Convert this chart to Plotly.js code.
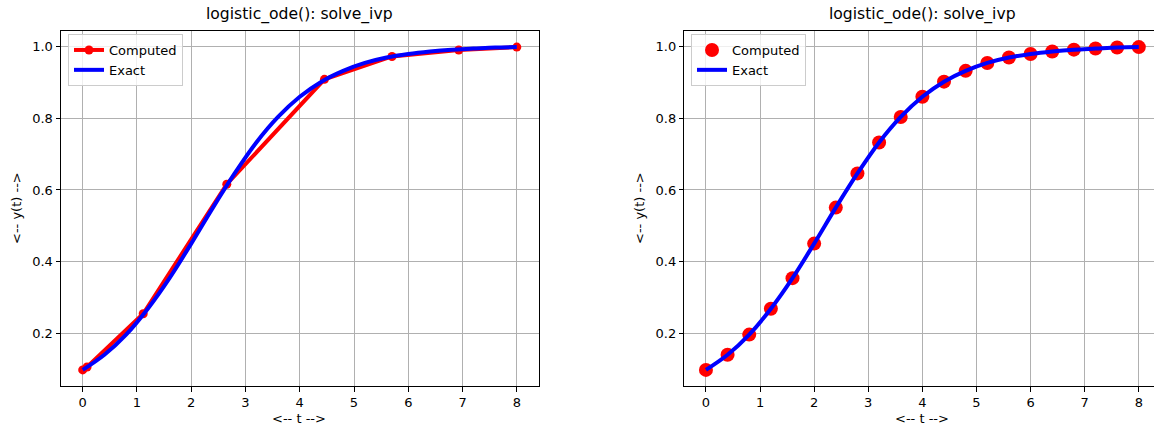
<!DOCTYPE html>
<html>
<head>
<meta charset="utf-8">
<script src="https://cdn.plot.ly/plotly-3.0.1.min.js"></script>
<style>html,body{margin:0;padding:0;background:#fff;}#chart{width:1154px;height:427px;}</style>
</head>
<body>
<div id="chart"></div>
<script>
// Left panel: solve_ivp adaptive steps
const leftT = [0, 0.08, 1.115, 2.655, 4.455, 5.70, 6.93, 8.0];
const leftY = [0.100, 0.108, 0.256, 0.616, 0.9075, 0.971, 0.989, 0.997];

// Right panel: solve_ivp with t_eval
const rightT = [0, 0.4, 0.8, 1.2, 1.6, 2.0, 2.4, 2.8, 3.2, 3.6, 4.0, 4.4, 4.8, 5.2, 5.6, 6.0, 6.4, 6.8, 7.2, 7.6, 8.0];
const rightY = [0.100, 0.142, 0.198, 0.270, 0.355, 0.451, 0.551, 0.646, 0.732, 0.803, 0.859, 0.901, 0.931, 0.953, 0.968, 0.978, 0.985, 0.990, 0.993, 0.996, 0.997];

// Exact curve
const exactT = [0, 0.4, 0.8, 1.2, 1.6, 2.0, 2.4, 2.8, 3.2, 3.6, 4.0, 4.4, 4.8, 5.2, 5.6, 6.0, 6.4, 6.8, 7.2, 7.6, 8.0];
const exactY = [0.100, 0.142, 0.198, 0.270, 0.355, 0.451, 0.551, 0.646, 0.732, 0.803, 0.859, 0.901, 0.931, 0.953, 0.968, 0.978, 0.985, 0.990, 0.993, 0.996, 0.997];

const xTicks = [0, 1, 2, 3, 4, 5, 6, 7, 8];
const yTicks = [0.2, 0.4, 0.6, 0.8, 1.0];
const yTickText = ['0.2', '0.4', '0.6', '0.8', '1.0'];

const titleText = 'logistic_ode(): solve_ivp';
const xLabel = '<-- t -->';
const yLabel = '<-- y(t) -->';

const FONT = 'DejaVu Sans, sans-serif';

const traces = [
  {x: leftT, y: leftY, mode: 'lines+markers', name: 'Computed', xaxis: 'x', yaxis: 'y',
   line: {color: '#ff0000', width: 4}, marker: {color: '#ff0000', size: 9}, legend: 'legend'},
  {x: exactT, y: exactY, mode: 'lines', name: 'Exact', xaxis: 'x', yaxis: 'y',
   line: {color: '#0000ff', width: 4, shape: 'spline', smoothing: 1}, legend: 'legend'},
  {x: rightT, y: rightY, mode: 'markers', name: 'Computed', xaxis: 'x2', yaxis: 'y2',
   marker: {color: '#ff0000', size: 14}, legend: 'legend2'},
  {x: exactT, y: exactY, mode: 'lines', name: 'Exact', xaxis: 'x2', yaxis: 'y2',
   line: {color: '#0000ff', width: 4, shape: 'spline', smoothing: 1}, legend: 'legend2'}
];

const axisBase = {
  showgrid: true, gridcolor: '#b0b0b0', gridwidth: 1,
  showline: true, linecolor: '#000', linewidth: 1,
  ticks: 'outside', ticklen: 4.5, tickwidth: 1, tickcolor: '#000',
  tickfont: {family: FONT, size: 13, color: '#000'},
  zeroline: false, automargin: false, fixedrange: true
};

const yDomain = [1 - 386/427, 1 - 31/427];

const legendBase = {
  xanchor: 'left', yanchor: 'top', y: 1 - 34/427,
  bgcolor: 'rgba(255,255,255,0.8)', bordercolor: '#cccccc', borderwidth: 1,
  font: {family: FONT, size: 13, color: '#000'}, tracegroupgap: 0
};

const layout = {
  width: 1154, height: 427,
  margin: {l: 0, r: 0, t: 0, b: 0},
  paper_bgcolor: '#fff', plot_bgcolor: '#fff',
  font: {family: FONT, size: 13, color: '#000'},
  showlegend: true,
  xaxis: Object.assign({}, axisBase, {domain: [61/1154, 538.5/1154], range: [-0.4, 8.4], tickvals: xTicks, mirror: true, anchor: 'y'}),
  yaxis: Object.assign({}, axisBase, {domain: yDomain, range: [0.0552, 1.0418], tickvals: yTicks, ticktext: yTickText, mirror: true, anchor: 'x'}),
  xaxis2: Object.assign({}, axisBase, {domain: [684.3/1154, 1], range: [-0.4, 8.281], tickvals: xTicks, mirror: true, anchor: 'y2'}),
  yaxis2: Object.assign({}, axisBase, {domain: yDomain, range: [0.0552, 1.0418], tickvals: yTicks, ticktext: yTickText, mirror: false, anchor: 'x2'}),
  legend: Object.assign({}, legendBase, {x: 68/1154}),
  legend2: Object.assign({}, legendBase, {x: 691/1154}),
  annotations: [
    {text: titleText, xref: 'paper', yref: 'paper', x: 299.5/1154, y: 1 - 14/427, showarrow: false, xanchor: 'center', yanchor: 'middle', font: {family: FONT, size: 15.6, color: '#000'}},
    {text: titleText, xref: 'paper', yref: 'paper', x: 922.4/1154, y: 1 - 14/427, showarrow: false, xanchor: 'center', yanchor: 'middle', font: {family: FONT, size: 15.6, color: '#000'}},
    {text: xLabel, xref: 'paper', yref: 'paper', x: 299.5/1154, y: 1 - 418/427, showarrow: false, xanchor: 'center', yanchor: 'middle', font: {family: FONT, size: 13, color: '#000'}},
    {text: xLabel, xref: 'paper', yref: 'paper', x: 922.4/1154, y: 1 - 418/427, showarrow: false, xanchor: 'center', yanchor: 'middle', font: {family: FONT, size: 13, color: '#000'}},
    {text: yLabel, xref: 'paper', yref: 'paper', x: 16/1154, y: 1 - 208/427, showarrow: false, textangle: -90, xanchor: 'center', yanchor: 'middle', font: {family: FONT, size: 13, color: '#000'}},
    {text: yLabel, xref: 'paper', yref: 'paper', x: 639/1154, y: 1 - 208/427, showarrow: false, textangle: -90, xanchor: 'center', yanchor: 'middle', font: {family: FONT, size: 13, color: '#000'}}
  ]
};

Plotly.newPlot('chart', traces, layout, {displayModeBar: false, staticPlot: true});
</script>
</body>
</html>
